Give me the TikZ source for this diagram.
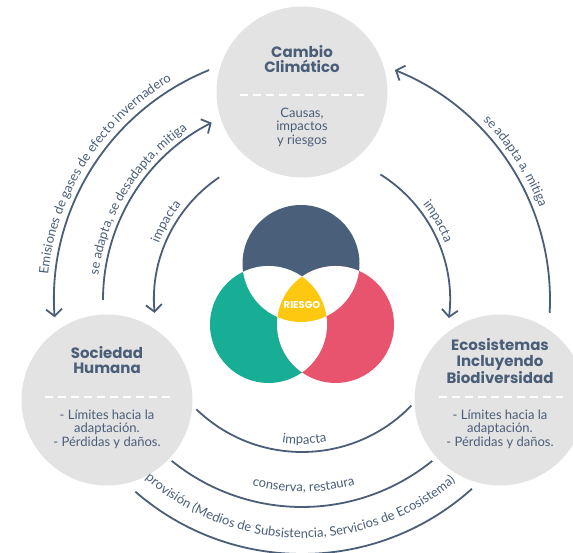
\documentclass[tikz,border=0pt]{standalone}
\usepackage{fontspec}
\setmainfont{Lato}
\newfontfamily\headfont{Poppins}
\usetikzlibrary{arrows.meta,decorations.text}

\definecolor{slate}{HTML}{4A5E78}
\definecolor{greybg}{HTML}{E3E3E3}
\definecolor{vblue}{HTML}{4A5F7A}
\definecolor{vteal}{HTML}{18AE96}
\definecolor{vred}{HTML}{E8546E}
\definecolor{vyellow}{HTML}{FEC710}

\newcommand\arcfont{\fontsize{13}{14}\selectfont}

\tikzset{
  topic/.style={shape = circle, fill = greybg, minimum size = 171pt, inner sep = 0pt},
  heading/.style={text = slate, font = \headfont\bfseries\fontsize{15}{15.5}\selectfont, align = center},
  detail/.style={text = slate, font = \fontsize{13}{13.5}\selectfont, align = center},
  divider/.style={white, line width = 1.5pt, dash pattern = on 8pt off 5pt},
  link/.style={slate, line width = 1.8pt},
  linkto/.style={link, -{Straight Barb[length = 7pt, width = 16pt]}},
  arclabel/.style={decorate, decoration={text along path, text align = center, text color = slate, text = {|\arcfont|#1}}}
}

\begin{document}
\begin{tikzpicture}[x=1pt,y=1pt]
\useasboundingbox (0,0) rectangle (573,553);
\coordinate (O) at (302,253);

\node[topic](CC) at (302,461) {};
\node[topic](SH) at (107,153) {};
\node[topic](EB) at (500,153) {};

\node[heading](CCt) at (302,494) {Cambio\\Climático};
\node[detail](CCd) at (302,426) {Causas,\\impactos\\y riesgos};
\draw[divider] ([xshift = -62pt, yshift = -3pt]CC.center) -- ([xshift = 62pt, yshift = -3pt]CC.center);

\node[heading](SHt) at (107,193) {Sociedad\\Humana};
\node[detail](SHd) at (107,124) {- Límites hacia la\\adaptación.\\- Pérdidas y daños.};
\draw[divider] ([xshift = -62pt, yshift = 3pt]SH.center) -- ([xshift = 63pt, yshift = 3pt]SH.center);

\node[heading](EBt) at (500,192) {Ecosistemas\\Incluyendo\\Biodiversidad};
\node[detail](EBd) at (500,124) {- Límites hacia la\\adaptación.\\- Pérdidas y daños.};
\draw[divider] ([xshift = -61pt, yshift = 3pt]EB.center) -- ([xshift = 63pt, yshift = 3pt]EB.center);

\coordinate (VT) at (301,289.5);
\coordinate (VL) at (268.5,228.5);
\coordinate (VR) at (335.5,228.5);
\fill[vblue] (VT) circle (58.5pt);
\fill[vteal] (VL) circle (58.5pt);
\fill[vred] (VR) circle (58.5pt);
\begin{scope}
\clip (VT) circle (58.5pt);
\fill[white] (VL) circle (58.5pt);
\fill[white] (VR) circle (58.5pt);
\end{scope}
\begin{scope}
\clip (VL) circle (58.5pt);
\fill[white] (VR) circle (58.5pt);
\end{scope}
\begin{scope}
\clip (VT) circle (58.5pt);
\clip (VL) circle (58.5pt);
\fill[vyellow] (VR) circle (58.5pt);
\end{scope}
\node[text = white, font = \headfont\bfseries\fontsize{10}{10}\selectfont](R) at (302,248) {RIESGO};

\draw[linkto] (O) ++(112:248pt) arc[start angle = 112, end angle = 184, radius = 248pt];
\draw[linkto] (O) ++(180:199pt) arc[start angle = 180, end angle = 117, radius = 199pt];
\draw[linkto] (O) ++(124:148pt) arc[start angle = 124, end angle = 185, radius = 148pt];
\draw[linkto] (O) ++(58:148pt) arc[start angle = 58, end angle = -7, radius = 148pt];
\draw[linkto] (O) ++(-3:248pt) arc[start angle = -3, end angle = 68, radius = 248pt];
\draw[link] (O) ++(226:152pt) arc[start angle = 226, end angle = 316, radius = 152pt];
\draw[link] (O) ++(231:207pt) arc[start angle = 231, end angle = 309, radius = 207pt];
\draw[link] (O) ++(229:254pt) arc[start angle = 229, end angle = 312, radius = 254pt];

\path[arclabel = {Emisiones de gases de efecto invernadero}] (O) ++(185:255pt) arc[start angle = 185, end angle = 110, radius = 255pt];
\path[arclabel = {se adapta, se desadapta, mitiga}] (O) ++(180:205pt) arc[start angle = 180, end angle = 117, radius = 205pt];
\path[arclabel = {impacta}] (O) ++(170:154pt) arc[start angle = 170, end angle = 130, radius = 154pt];
\path[arclabel = {impacta}] (O) ++(50:154pt) arc[start angle = 50, end angle = 10, radius = 154pt];
\path[arclabel = {se adapta a, mitiga}] (O) ++(63:255pt) arc[start angle = 63, end angle = 3, radius = 255pt];
\path[arclabel = {impacta}] (O) ++(251:144pt) arc[start angle = 251, end angle = 291, radius = 144pt];
\path[arclabel = {conserva, restaura}] (O) ++(240:192pt) arc[start angle = 240, end angle = 301, radius = 192pt];
\path[arclabel = {provisión (Medios de Subsistencia, Servicios de Ecosistema)}] (O) ++(218:238pt) arc[start angle = 218, end angle = 321, radius = 238pt];
\end{tikzpicture}
\end{document}
